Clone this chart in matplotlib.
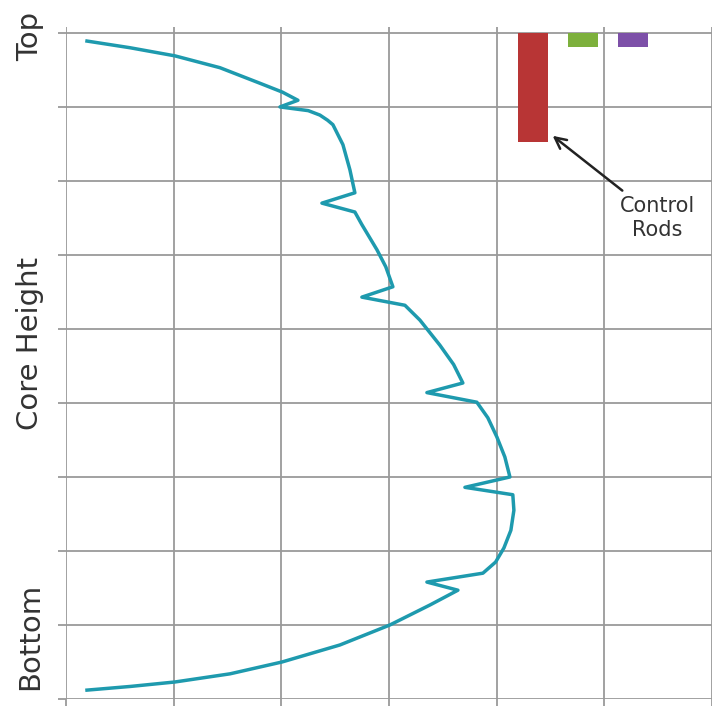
import matplotlib
matplotlib.use("Agg")
from matplotlib import pyplot as plt

# axial power profile (x = flux, y = core height in grid rows)
flux = [0.195, 0.594, 1.012, 1.430, 1.801, 2.010, 2.154, 1.987, 2.250, 2.358,
        2.430, 2.479, 2.572, 2.637, 2.683, 2.377, 2.683, 2.748, 2.888, 2.970,
        3.036, 2.748, 3.148, 3.287, 3.473, 3.600, 3.686, 3.352, 3.816, 3.918,
        4.002, 4.076, 4.123, 3.705, 4.150, 4.160, 4.132, 4.067, 3.990, 3.872,
        3.352, 3.640, 3.380, 3.008, 2.544, 2.006, 1.523, 1.012, 0.600, 0.195]
height = [8.89, 8.80, 8.69, 8.53, 8.32, 8.20, 8.09, 8.00, 7.95, 7.89,
          7.82, 7.76, 7.49, 7.15, 6.84, 6.70, 6.58, 6.41, 6.07, 5.84,
          5.57, 5.43, 5.32, 5.12, 4.78, 4.52, 4.27, 4.14, 4.01, 3.80,
          3.54, 3.27, 3.00, 2.86, 2.76, 2.55, 2.28, 2.04, 1.85, 1.70,
          1.58, 1.47, 1.27, 1.00, 0.73, 0.50, 0.34, 0.23, 0.17, 0.12]

# control rods hanging from the top of the core
rod_pos = [4.336, 4.80, 5.265]
rod_insertion = [1.47, 0.19, 0.19]
rod_colors = ["#B83535", "#7DB03C", "#7D50A8"]

core_top = 9

fig = plt.figure(figsize=(7.12, 7.07), dpi=100)
ax = fig.add_axes([66 / 712, 8 / 707, 1 - 66 / 712, (707 - 27 - 8) / 707])

ax.bar(rod_pos, [-v for v in rod_insertion], bottom=core_top, width=0.279,
       color=rod_colors, zorder=3)
ax.plot(flux, height, color="#1E9AAE", linewidth=2.5, zorder=4)

ax.annotate("Control\nRods", xy=(4.52, 7.61), xytext=(5.49, 6.50),
            ha="center", va="center", fontsize=15, color="#333333",
            linespacing=1.25,
            arrowprops=dict(arrowstyle="->", color="#222222", lw=1.8,
                            mutation_scale=20, shrinkA=3, shrinkB=0))

ax.set_xlim(0, 6)
ax.set_ylim(0, core_top + 0.08)
ax.set_xticks(range(0, 7))
ax.set_yticks(range(0, 10))
ax.set_xticklabels([])
ax.set_yticklabels([])
ax.tick_params(axis="y", length=6, width=1.3, color="#9a9a9a")
ax.tick_params(axis="x", length=5, width=1.3, color="#9a9a9a")
ax.grid(True, color="#9a9a9a", linewidth=1.3)
for s in ax.spines.values():
    s.set_visible(False)

fig.text(30 / 712, 1 - 36 / 707, "Top", rotation=90, ha="center", va="center",
         fontsize=21, color="#333333")
fig.text(30 / 712, 1 - 343 / 707, "Core Height", rotation=90, ha="center",
         va="center", fontsize=21, color="#333333")
fig.text(30 / 712, 1 - 636 / 707, "Bottom", rotation=90, ha="center",
         va="center", fontsize=21, color="#333333")

fig.savefig("out.png", dpi=100)
